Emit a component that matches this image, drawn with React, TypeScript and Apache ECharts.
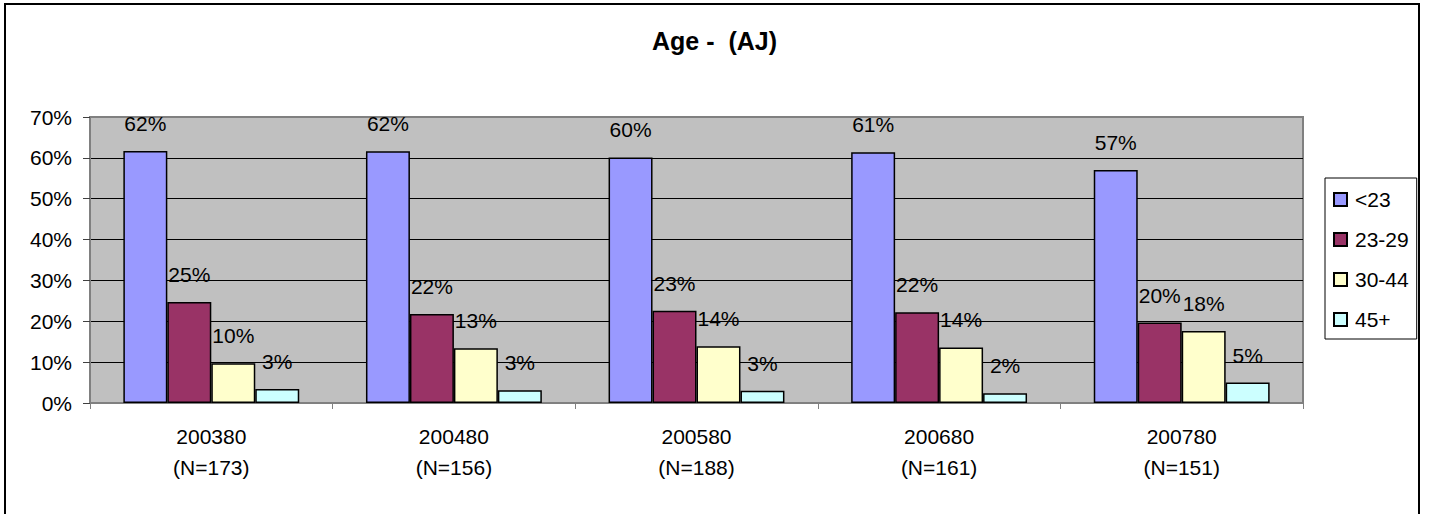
import React, { useEffect, useRef } from "react";
import * as echarts from "echarts";

const categories = ["200380\n(N=173)", "200480\n(N=156)", "200580\n(N=188)", "200680\n(N=161)", "200780\n(N=151)"];
const seriesNames = ["<23", "23-29", "30-44", "45+"];
const under23 = [61.7, 61.6, 60.1, 61.4, 57.0];
const age23to29 = [24.7, 21.8, 22.6, 22.2, 19.7];
const age30to44 = [9.7, 13.4, 13.9, 13.6, 17.6];
const age45plus = [3.4, 3.1, 3.0, 2.4, 5.0];
const yTicks = { min: 0, max: 70, interval: 10 };
const colors = ["#9999FF", "#993366", "#FFFFCC", "#CCFFFF"];

const FONT = "'Liberation Sans', Arial, sans-serif";

export default function App() {
  const ref = useRef<HTMLDivElement>(null);
  useEffect(() => {
    if (!ref.current) return;
    const chart = echarts.init(ref.current, null, { renderer: "svg" });
    const values = [under23, age23to29, age30to44, age45plus];
    chart.setOption({
      animation: false,
      backgroundColor: "#ffffff",
      textStyle: { fontFamily: FONT },
      title: {
        text: "Age -  (AJ)",
        left: "center",
        top: 28,
        padding: 0,
        textStyle: { fontFamily: FONT, fontSize: 25, fontWeight: "bold", color: "#000" },
      },
      graphic: [
        {
          type: "rect",
          shape: { x: 5, y: 4, width: 1414, height: 540 },
          style: { fill: "none", stroke: "#000", lineWidth: 2 },
          silent: true,
        },
      ],
      legend: {
        orient: "vertical",
        left: 1325,
        top: 178,
        padding: [11, 8, 9, 8],
        itemGap: 19,
        itemWidth: 13,
        itemHeight: 13,
        icon: "rect",
        borderColor: "#000",
        borderWidth: 1,
        backgroundColor: "#fff",
        data: seriesNames,
        textStyle: { fontFamily: FONT, fontSize: 21, lineHeight: 21, color: "#000", padding: [0, 0, 0, 3] },
      },
      grid: {
        left: 90,
        top: 117,
        right: 126,
        bottom: 111,
        show: true,
        backgroundColor: "#C0C0C0",
        borderColor: "#808080",
        borderWidth: 2,
        containLabel: false,
      },
      xAxis: {
        type: "category",
        data: categories,
        axisLine: { show: true, lineStyle: { color: "#808080", width: 2 } },
        axisTick: { show: true, alignWithLabel: false, length: 6, lineStyle: { color: "#808080", width: 1 } },
        axisLabel: { fontFamily: FONT, fontSize: 21, lineHeight: 31, color: "#000", margin: 18, interval: 0 },
        splitLine: { show: false },
      },
      yAxis: {
        type: "value",
        min: yTicks.min,
        max: yTicks.max,
        interval: yTicks.interval,
        axisLine: { show: true, lineStyle: { color: "#808080", width: 2 } },
        axisTick: { show: true, inside: false, length: 7, lineStyle: { color: "#404040", width: 1 } },
        axisLabel: { fontFamily: FONT, fontSize: 21, color: "#000", margin: 18, formatter: "{value}%" },
        splitLine: {
          show: true,
          lineStyle: {
            color: ["#808080", "#000", "#000", "#000", "#000", "#000", "#000", "#808080"],
            width: 1,
          },
        },
      },
      series: seriesNames.map((name, i) => ({
        name,
        type: "bar",
        data: values[i],
        barCategoryGap: "27.5%",
        barGap: "0%",
        itemStyle: { color: colors[i], borderColor: "#000", borderWidth: 1.5 },
        label: {
          show: true,
          position: "top",
          distance: 17,
          fontFamily: FONT,
          fontSize: 21,
          color: "#000",
          formatter: (p: any) => Math.round(p.value) + "%",
        },
      })),
    });
    return () => chart.dispose();
  }, []);
  return (
    <div
      ref={ref}
      style={{ position: "fixed", left: 0, top: 0, width: 1429, height: 514 }}
    />
  );
}
